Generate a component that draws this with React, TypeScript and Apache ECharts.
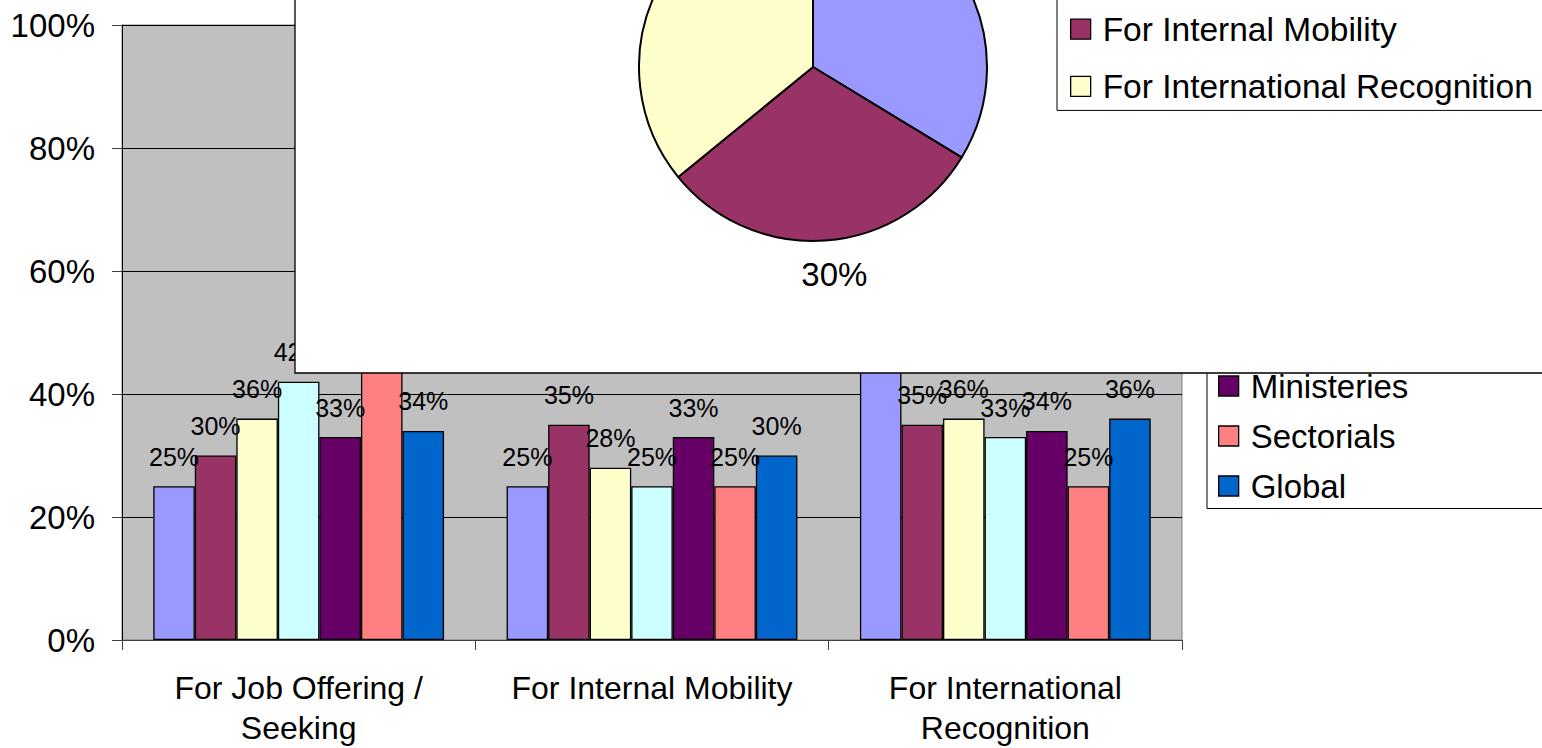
import React, { useEffect, useRef } from "react";
import * as echarts from "echarts";

// Usage categories (pie slices and legend)
const categories = [
  "For Job Offering / Seeking",
  "For Internal Mobility",
  "For International Recognition",
];

// Category axis labels, wrapped
const categoryLabels = [
  "For Job Offering /\nSeeking",
  "For Internal Mobility",
  "For International\nRecognition",
];

// Respondent groups shown as bars
const seriesNames = [
  "Enterprises",
  "Education & Training Providers",
  "Employment Services",
  "Social Partners",
  "Ministeries",
  "Sectorials",
  "Global",
];
const seriesColors = [
  "#9999FF",
  "#993366",
  "#FFFFCC",
  "#CCFFFF",
  "#660066",
  "#FF8080",
  "#0066CC",
];

// Share of respondents (%) per category
const enterprises = [25, 25, 46];
const trainingProviders = [30, 35, 35];
const employmentServices = [36, 28, 36];
const socialPartners = [42, 25, 33];
const ministeries = [33, 33, 34];
const sectorials = [47, 25, 25];
const global = [34, 30, 36];
const barValues = [
  enterprises,
  trainingProviders,
  employmentServices,
  socialPartners,
  ministeries,
  sectorials,
  global,
];

// Overall split across categories (pie)
const pieValues = [33.7, 30.4, 35.9];
const pieColors = ["#9999FF", "#993366", "#FFFFCC"];

// Value axis
const yMin = 0;
const yMax = 100;
const yStep = 20;

const FONT = "'Liberation Sans', Arial, sans-serif";

export default function App() {
  const ref = useRef<HTMLDivElement>(null);

  useEffect(() => {
    if (!ref.current) return;
    const chart = echarts.init(ref.current, undefined, { renderer: "svg" });

    const bars = seriesNames.map((name, i) => ({
      type: "bar",
      name,
      data: barValues[i],
      barGap: "0%",
      barCategoryGap: "17.7%",
      z: 2,
      itemStyle: {
        color: seriesColors[i],
        borderColor: "#000",
        borderWidth: 1.3,
      },
      label: {
        show: true,
        position: "top",
        distance: 17,
        formatter: "{c}%",
        fontSize: 25,
        color: "#000",
        fontFamily: FONT,
      },
      emphasis: { disabled: true },
    }));

    const option = {
      animation: false,
      textStyle: { fontFamily: FONT },
      grid: {
        left: 122,
        top: 25,
        width: 1060,
        height: 615,
        show: true,
        backgroundColor: "#C0C0C0",
        borderColor: "#808080",
        borderWidth: 1,
        containLabel: false,
        outerBoundsMode: "none",
      },
      xAxis: {
        type: "category",
        data: categoryLabels,
        axisLine: { show: true, lineStyle: { color: "#404040", width: 1 } },
        axisTick: { show: true, length: 10, lineStyle: { color: "#404040" } },
        axisLabel: {
          interval: 0,
          margin: 28,
          fontSize: 32,
          lineHeight: 40,
          color: "#000",
          fontFamily: FONT,
        },
        splitLine: { show: false },
      },
      yAxis: {
        type: "value",
        min: yMin,
        max: yMax,
        interval: yStep,
        axisLine: { show: true, lineStyle: { color: "#000", width: 1 } },
        axisTick: { show: true, length: 10, lineStyle: { color: "#404040" } },
        axisLabel: {
          formatter: "{value}%",
          fontSize: 33,
          color: "#000",
          margin: 27,
          fontFamily: FONT,
        },
        splitLine: { show: true, lineStyle: { color: "#000", width: 1 } },
      },
      legend: [
        {
          orient: "vertical",
          left: 1207,
          top: 163.5,
          data: seriesNames,
          z: 2,
          padding: [6, 20, 6, 11],
          itemGap: 17,
          itemWidth: 20,
          itemHeight: 20,
          icon: "rect",
          itemStyle: { borderColor: "#000", borderWidth: 1.3 },
          textStyle: {
            fontSize: 33,
            lineHeight: 33,
            color: "#000",
            padding: [0, 0, 0, 7],
            fontFamily: FONT,
          },
          backgroundColor: "#fff",
          borderColor: "#000",
          borderWidth: 1,
          selectedMode: false,
        },
        {
          orient: "vertical",
          left: 1057,
          top: -52,
          data: categories,
          z: 7,
          padding: [7, 24, 7, 13],
          itemGap: 23.2,
          itemWidth: 20,
          itemHeight: 20,
          icon: "rect",
          itemStyle: { borderColor: "#000", borderWidth: 1.3 },
          textStyle: {
            fontSize: 33.5,
            lineHeight: 33.5,
            color: "#000",
            padding: [0, 0, 0, 7],
            fontFamily: FONT,
          },
          backgroundColor: "#fff",
          borderColor: "#000",
          borderWidth: 1,
          selectedMode: false,
        },
      ],
      graphic: {
        elements: [
          {
            type: "rect",
            z: 5,
            shape: { x: 295, y: -20, width: 1400, height: 393 },
            style: { fill: "#fff", stroke: "#000", lineWidth: 1.3 },
            silent: true,
          },
        ],
      },
      series: [
        ...bars,
        {
          type: "pie",
          name: "Overall",
          center: [813, 67],
          radius: 174,
          startAngle: 90,
          clockwise: true,
          avoidLabelOverlap: false,
          percentPrecision: 0,
          z: 6,
          data: categories.map((name, i) => ({
            name,
            value: pieValues[i],
            itemStyle: { color: pieColors[i] },
          })),
          itemStyle: { borderColor: "#000", borderWidth: 2 },
          label: {
            show: true,
            position: "outside",
            formatter: "{d}%",
            fontSize: 33,
            color: "#000",
            fontFamily: FONT,
          },
          labelLine: { show: false, length: 34, length2: 0 },
          labelLayout: { dx: -31 },
          emphasis: { disabled: true },
        },
      ],
    };

    chart.setOption(option as any);
    return () => chart.dispose();
  }, []);

  return (
    <div
      ref={ref}
      style={{
        position: "absolute",
        left: 0,
        top: 0,
        width: 1542,
        height: 748,
        overflow: "hidden",
        background: "#fff",
      }}
    />
  );
}
